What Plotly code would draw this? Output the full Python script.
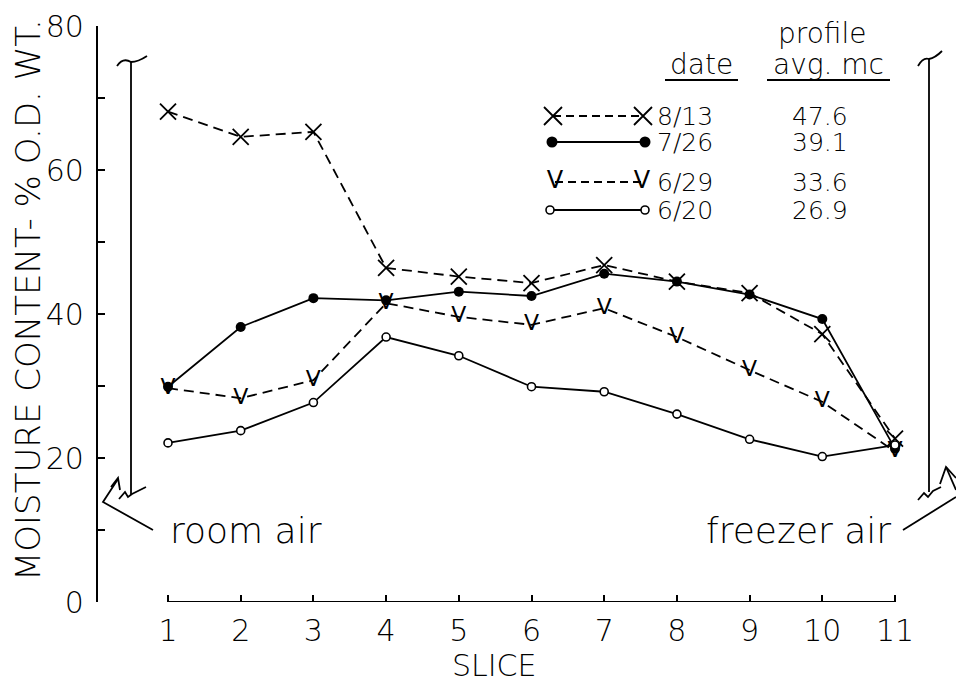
import plotly.graph_objects as go

# ---------------- data ----------------
slices = list(range(1, 12))
mc_0813 = [68.1, 64.6, 65.3, 46.4, 45.2, 44.3, 46.8, 44.5, 42.9, 37.2, 22.7]
mc_0726 = [29.9, 38.2, 42.2, 41.9, 43.1, 42.5, 45.6, 44.5, 42.7, 39.3, 21.3]
mc_0629 = [29.7, 28.3, 30.8, 41.5, 39.6, 38.5, 40.8, 36.8, 32.2, 27.8, 20.9]
mc_0620 = [22.1, 23.8, 27.7, 36.8, 34.2, 29.9, 29.2, 26.1, 22.6, 20.2, 21.8]
dates = ["8/13", "7/26", "6/29", "6/20"]
profile_avg = ["47.6", "39.1", "33.6", "26.9"]
y_tickvals = list(range(0, 81, 10))
y_ticktext = ["0", "", "20", "", "40", "", "60", "", "80"]

# ---------------- layout geometry (pixels) ----------------
W, H = 956, 684
X1_PX, DX_PX = 168.0, 72.7       # pixel of slice 1, pixels per slice
Y0_PX, DY_PX = 602.0, 7.2        # pixel of 0 %, pixels per %
YAXIS_PX = 97.0
FONT = "DejaVu Sans"
WEIGHT = 300
BLACK = "#000000"
LW = 1.8
DASH = "10px,6px"

x_lo = 1 - X1_PX / DX_PX
x_hi = 1 + (W - X1_PX) / DX_PX
y_dom = [(H - Y0_PX) / H, (H - (Y0_PX - 80 * DY_PX)) / H]

def fnt(size, weight=WEIGHT):
    return dict(family=FONT, size=size, color=BLACK, weight=weight)

fig = go.Figure()

# ---------------- data traces ----------------
fig.add_trace(go.Scatter(
    x=slices, y=mc_0813, mode="lines+markers", cliponaxis=False,
    line=dict(color=BLACK, width=LW, dash=DASH),
    marker=dict(symbol="x-thin", size=16, line=dict(color=BLACK, width=1.8)),
))
fig.add_trace(go.Scatter(
    x=slices, y=mc_0629, mode="lines+text", cliponaxis=False, text=["V"] * len(slices),
    textposition="middle center", textfont=fnt(22, 400),
    line=dict(color=BLACK, width=LW, dash=DASH),
))
fig.add_trace(go.Scatter(
    x=slices, y=mc_0726, mode="lines+markers", cliponaxis=False,
    line=dict(color=BLACK, width=LW),
    marker=dict(symbol="circle", size=10, color=BLACK),
))
fig.add_trace(go.Scatter(
    x=slices, y=mc_0620, mode="lines+markers", cliponaxis=False,
    line=dict(color=BLACK, width=LW),
    marker=dict(symbol="circle", size=8, color="white", line=dict(color=BLACK, width=1.6)),
))

# ---------------- custom legend (pixel overlay axes x2/y2) ----------------
LEG_ROWS_Y = [116, 142, 182, 210]
LEG_X = [(553, 643), (552, 645), (555, 642), (550, 645)]
fig.add_trace(go.Scatter(x=list(LEG_X[0]), y=[LEG_ROWS_Y[0]] * 2, xaxis="x2", yaxis="y2",
                         mode="lines+markers", cliponaxis=False,
                         line=dict(color=BLACK, width=LW, dash="8px,5px"),
                         marker=dict(symbol="x-thin", size=18, line=dict(color=BLACK, width=1.8))))
fig.add_trace(go.Scatter(x=list(LEG_X[1]), y=[LEG_ROWS_Y[1]] * 2, xaxis="x2", yaxis="y2",
                         mode="lines+markers", cliponaxis=False,
                         line=dict(color=BLACK, width=LW),
                         marker=dict(symbol="circle", size=11, color=BLACK)))
fig.add_trace(go.Scatter(x=list(LEG_X[2]), y=[LEG_ROWS_Y[2]] * 2, xaxis="x2", yaxis="y2",
                         mode="lines+text", cliponaxis=False, text=["V", "V"],
                         textposition="middle center", textfont=fnt(24, 400),
                         line=dict(color=BLACK, width=LW, dash="8px,5px")))
fig.add_trace(go.Scatter(x=list(LEG_X[3]), y=[LEG_ROWS_Y[3]] * 2, xaxis="x2", yaxis="y2",
                         mode="lines+markers", cliponaxis=False,
                         line=dict(color=BLACK, width=LW),
                         marker=dict(symbol="circle", size=8, color="white",
                                     line=dict(color=BLACK, width=1.6))))

annotations = []
def txt(x, y, s, size, xanchor="center", angle=0):
    annotations.append(dict(x=x, y=y, xref="x2", yref="y2", text=s, showarrow=False,
                            xanchor=xanchor, yanchor="middle", textangle=angle,
                            font=fnt(size)))

txt(822, 33, "profile", 28)
txt(828, 64, "avg. mc", 28)
txt(701, 64, "date", 28)
for i, (d, a) in enumerate(zip(dates, profile_avg)):
    txt(655, LEG_ROWS_Y[i], d, 25, xanchor="left")
    txt(790, LEG_ROWS_Y[i], a, 25, xanchor="left")

txt(168, 530, "room air", 36, xanchor="left")
txt(893, 530, "freezer air", 36, xanchor="right")
txt(494, 665, "SLICE", 30)
txt(28, 300, "MOISTURE CONTENT- % O.D. WT.", 34, angle=-90)

# ---------------- decorations (pixel coordinates) ----------------
shapes = []
def path(p, w=1.8):
    shapes.append(dict(type="path", path=p, xref="x2", yref="y2",
                       line=dict(color=BLACK, width=w)))

shapes.append(dict(type="line", xref="x", yref="y", x0=1, x1=11, y0=0, y1=0,
                   line=dict(color=BLACK, width=2.2)))
path("M665,80 L738,80", 2)
path("M767,80 L890,80", 2)
path("M131,62 L131,495")
path("M117,66 Q123,57 131,62 Q138,62 147,56")
path("M119,499 L125,492 L128,497 L132,494 L146,487")
path("M929,59 L929,492")
path("M918,66 Q923,57 929,59 Q935,58 942,51")
path("M918,500 L924,493 L928,497 L933,491 L941,487")
path("M153,530 L103,502 L118,479")
path("M111,487 L118,478 L120,490")
path("M903,530 L956,497")
path("M940,484 L946,467 L956,478")
path("M946,467 L956,490")

fig.update_layout(
    width=W, height=H,
    margin=dict(l=0, r=0, t=0, b=0, pad=0, autoexpand=False),
    paper_bgcolor="white", plot_bgcolor="rgba(0,0,0,0)",
    showlegend=False,
    annotations=annotations,
    shapes=shapes,
    xaxis=dict(domain=[0, 1], range=[x_lo, x_hi], anchor="y", automargin=False,
               showline=False, showgrid=False, zeroline=False,
               tickmode="array", tickvals=slices, ticktext=[str(s) for s in slices],
               ticks="inside", ticklen=7, tickwidth=2, tickcolor=BLACK,
               ticklabelstandoff=8, tickfont=fnt(30)),
    yaxis=dict(domain=y_dom, range=[0, 80], anchor="free", position=YAXIS_PX / W,
               automargin=False,
               showline=True, linecolor=BLACK, linewidth=2.2,
               showgrid=False, zeroline=False,
               tickmode="array", tickvals=y_tickvals, ticktext=y_ticktext,
               ticks="inside", ticklen=7, tickwidth=2, tickcolor=BLACK,
               ticklabelstandoff=6, tickfont=fnt(30)),
    xaxis2=dict(domain=[0, 1], range=[0, W], anchor="y2", visible=False,
                fixedrange=True, automargin=False),
    yaxis2=dict(domain=[0, 1], range=[H, 0], anchor="x2", visible=False,
                fixedrange=True, automargin=False),
)

fig.write_html("out.html",
               config={"displayModeBar": False},
               post_script="document.body.style.margin='0px';document.body.style.overflow='hidden';")
